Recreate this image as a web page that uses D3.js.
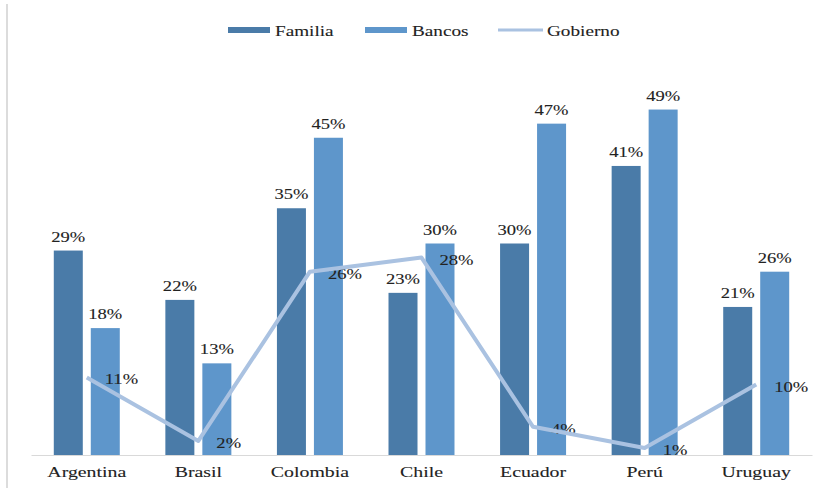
<!DOCTYPE html>
<html>
<head>
<meta charset="utf-8">
<script src="https://cdn.jsdelivr.net/npm/d3@7"></script>
<style>
  html, body { margin: 0; padding: 0; background: #fff; }
  svg { display: block; }
</style>
</head>
<body>
<svg id="chart" width="825" height="488"></svg>
<script>
// Financing sources by country (%)
const countries = ["Argentina", "Brasil", "Colombia", "Chile", "Ecuador", "Perú", "Uruguay"];
const familia   = [29, 22, 35, 23, 30, 41, 21];
const bancos    = [18, 13, 45, 30, 47, 49, 26];
const gobierno  = [11, 2, 26, 28, 4, 1, 10];
const seriesNames = ["Familia", "Bancos", "Gobierno"];

const colors = { Familia: "#4a7ba8", Bancos: "#5e96cb", Gobierno: "#aac2e1" };
const FONT = "'Liberation Serif', 'Times New Roman', Times, serif";
const TEXT_COLOR = "#222";

const svg = d3.select("#chart");
const W = 825, H = 488;
const margin = { left: 31, right: 13, top: 32, bottom: 33 };
const baseY = H - margin.bottom;

const x = d3.scaleBand().domain(countries).range([margin.left, W - margin.right]).padding(0);
const xInner = d3.scaleBand().domain(["Familia", "Bancos"]).range([0, x.bandwidth()])
  .paddingInner(0.216).paddingOuter(0.616);
const y = d3.scaleLinear().domain([0, 60]).range([baseY, baseY - 60 * 7.05]);

// text is drawn slightly stretched horizontally
const X_STRETCH = 1.28;
function label(parent, px, py, str, size, anchor) {
  parent.append("g")
    .attr("transform", `translate(${px},${py}) scale(${X_STRETCH},1)`)
    .append("text")
    .attr("text-anchor", anchor || "middle")
    .attr("font-family", FONT)
    .attr("font-size", size)
    .attr("fill", TEXT_COLOR)
    .attr("stroke", TEXT_COLOR)
    .attr("stroke-width", 0.1)
    .text(str);
}

// left frame edge
svg.append("line")
  .attr("x1", 7).attr("x2", 7).attr("y1", 4).attr("y2", H)
  .attr("stroke", "#dcdcdc").attr("stroke-width", 2);

const rows = countries.map((c, i) => ({ c, Familia: familia[i], Bancos: bancos[i], Gobierno: gobierno[i] }));

// bars
const groups = svg.append("g").selectAll("g").data(rows).join("g")
  .attr("transform", d => `translate(${x(d.c)},0)`);

groups.selectAll("rect")
  .data(d => ["Familia", "Bancos"].map(k => ({ k, v: d[k] })))
  .join("rect")
  .attr("x", d => xInner(d.k))
  .attr("width", xInner.bandwidth())
  .attr("y", d => y(d.v))
  .attr("height", d => baseY - y(d.v))
  .attr("fill", d => colors[d.k]);

// x axis
const xAxis = svg.append("g").attr("transform", `translate(0,${baseY})`)
  .call(d3.axisBottom(x).tickSize(0).tickFormat(""));
xAxis.select(".domain").attr("stroke", "#d9d9d9").attr("stroke-width", 1.2);

const labelsG = svg.append("g");
countries.forEach(c => {
  label(labelsG, x(c) + x.bandwidth() / 2, baseY + 22, c, 15.5, "middle");
});

// bar value labels
rows.forEach(d => {
  ["Familia", "Bancos"].forEach(k => {
    label(labelsG, x(d.c) + xInner(k) + xInner.bandwidth() / 2, y(d[k]) - 9, d[k] + "%", 14.5, "middle");
  });
});

// Gobierno line
const cx = c => x(c) + x.bandwidth() / 2;
const line = d3.line().x(d => cx(d.c)).y(d => y(d.Gobierno));
svg.append("path")
  .datum(rows)
  .attr("d", line)
  .attr("fill", "none")
  .attr("stroke", colors.Gobierno)
  .attr("stroke-width", 4)
  .attr("stroke-linejoin", "round");

rows.forEach(d => {
  label(labelsG, cx(d.c) + 18, y(d.Gobierno) + 7, d.Gobierno + "%", 14.5, "start");
});

// legend
const legend = svg.append("g");
const legendItems = [
  { name: seriesNames[0], x: 228, type: "rect" },
  { name: seriesNames[1], x: 365, type: "rect" },
  { name: seriesNames[2], x: 498, type: "line" }
];
legendItems.forEach(it => {
  if (it.type === "rect") {
    legend.append("rect").attr("x", it.x).attr("y", 27).attr("width", 42).attr("height", 6)
      .attr("fill", colors[it.name]);
    label(legend, it.x + 47, 36, it.name, 15, "start");
  } else {
    legend.append("line").attr("x1", it.x).attr("x2", it.x + 45).attr("y1", 30).attr("y2", 30)
      .attr("stroke", colors[it.name]).attr("stroke-width", 3);
    label(legend, it.x + 49, 36, it.name, 15, "start");
  }
});
</script>
</body>
</html>
